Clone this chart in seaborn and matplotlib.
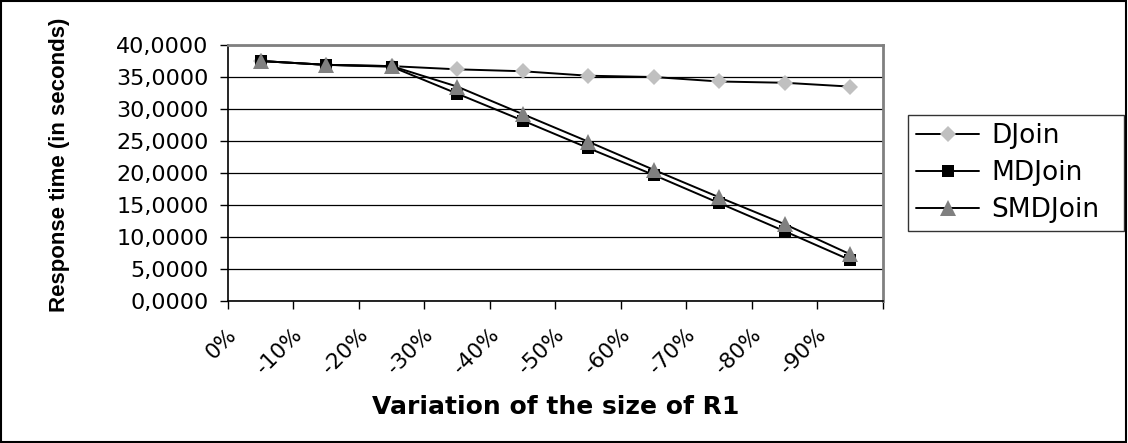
import numpy as np
import pandas as pd
import matplotlib
matplotlib.use("Agg")
import matplotlib.pyplot as plt
from matplotlib.ticker import FixedLocator, FuncFormatter
from matplotlib.transforms import ScaledTranslation
from matplotlib.patches import Rectangle
import seaborn as sns

categories = ["0%", "-10%", "-20%", "-30%", "-40%", "-50%", "-60%", "-70%", "-80%", "-90%"]
djoin = [37.5, 36.9, 36.7, 36.2, 35.9, 35.2, 35.0, 34.3, 34.1, 33.5]
mdjoin = [37.5, 36.9, 36.6, 32.4, 28.2, 23.9, 19.7, 15.3, 10.9, 6.4]
smdjoin = [37.5, 36.9, 36.7, 33.5, 29.2, 24.9, 20.5, 16.2, 12.0, 7.3]
series_names = ["DJoin", "MDJoin", "SMDJoin"]
y_ticks = [0, 5, 10, 15, 20, 25, 30, 35, 40]

sns.set_style("white")
plt.rcParams["font.family"] = ["DejaVu Sans"]
plt.rcParams.update({
    "text.color": "black",
    "axes.labelcolor": "black",
    "xtick.color": "black",
    "ytick.color": "black",
})

pos = np.arange(len(categories))
df = pd.DataFrame({
    "pos": np.tile(pos, 3),
    "value": djoin + mdjoin + smdjoin,
    "series": np.repeat(series_names, len(categories)),
})

fig = plt.figure(figsize=(11.28, 4.43), dpi=100)
ax = fig.add_axes([0.2021, 0.3205, 0.5807, 0.5779])

styles = {
    "DJoin": dict(marker="D", color="#C0C0C0", ms=8),
    "MDJoin": dict(marker="s", color="black", ms=8),
    "SMDJoin": dict(marker="^", color="#808080", ms=11.5),
}
for name in series_names:
    st = styles[name]
    sns.lineplot(data=df[df["series"] == name], x="pos", y="value", ax=ax,
                 color="black", lw=1.4, marker=st["marker"], markersize=st["ms"],
                 markerfacecolor=st["color"], markeredgecolor=st["color"],
                 markeredgewidth=0, label=name, legend=False)

ax.set_xlim(-0.5, len(categories) - 0.5)
ax.set_ylim(0, 40)
ax.yaxis.set_major_locator(FixedLocator(y_ticks))
ax.yaxis.set_major_formatter(FuncFormatter(lambda v, p: f"{v:.4f}".replace(".", ",")))
ax.grid(axis="y", color="black", lw=0.9)
ax.set_axisbelow(True)

# category boundaries carry the tick marks, centres carry the labels
ax.xaxis.set_major_locator(FixedLocator(np.arange(len(categories) + 1) - 0.5))
ax.xaxis.set_major_formatter(FuncFormatter(lambda v, p: ""))
ax.set_xticks(pos, minor=True)
ax.set_xticklabels(categories, minor=True, rotation=45, ha="right", va="top",
                   rotation_mode="default", fontsize=15.5)
ax.tick_params(axis="x", which="minor", length=0, pad=17)
ax.tick_params(axis="x", which="major", direction="out", length=6, width=1, color="black", bottom=True)
ax.tick_params(axis="y", direction="out", length=6, width=1, color="black", left=True,
               labelsize=16, pad=8)
shift = ScaledTranslation(-0.2, 0, fig.dpi_scale_trans)
for lab in ax.get_xticklabels(minor=True):
    lab.set_transform(lab.get_transform() + shift)

for side in ["left", "bottom"]:
    ax.spines[side].set_color("black")
    ax.spines[side].set_linewidth(1.2)
for side in ["top", "right"]:
    ax.spines[side].set_color("#808080")
    ax.spines[side].set_linewidth(2)

ax.set_xlabel("Variation of the size of R1", fontsize=18, fontweight="bold", labelpad=12)
ax.set_ylabel("Response time (in seconds)", fontsize=16, fontweight="bold",
              family=["Liberation Sans", "DejaVu Sans"])
ax.yaxis.set_label_coords(-0.241, 0.531)

handles, labels = ax.get_legend_handles_labels()
leg = fig.legend(handles, labels, loc="upper left",
                 bbox_to_anchor=(908 / 1128, 1 - 229 / 443, 216 / 1128, 114 / 443),
                 mode="expand", fontsize=19, frameon=True, fancybox=False, edgecolor="black",
                 handlelength=2.4, borderpad=0.3, labelspacing=0.42, handletextpad=0.45,
                 borderaxespad=0)
leg.get_frame().set_linewidth(1.0)

fig.patches.append(Rectangle((0.001, 0.002), 0.997, 0.995, transform=fig.transFigure,
                             fill=False, edgecolor="black", lw=1.5))

fig.savefig("out.png", dpi=100, facecolor="white")
